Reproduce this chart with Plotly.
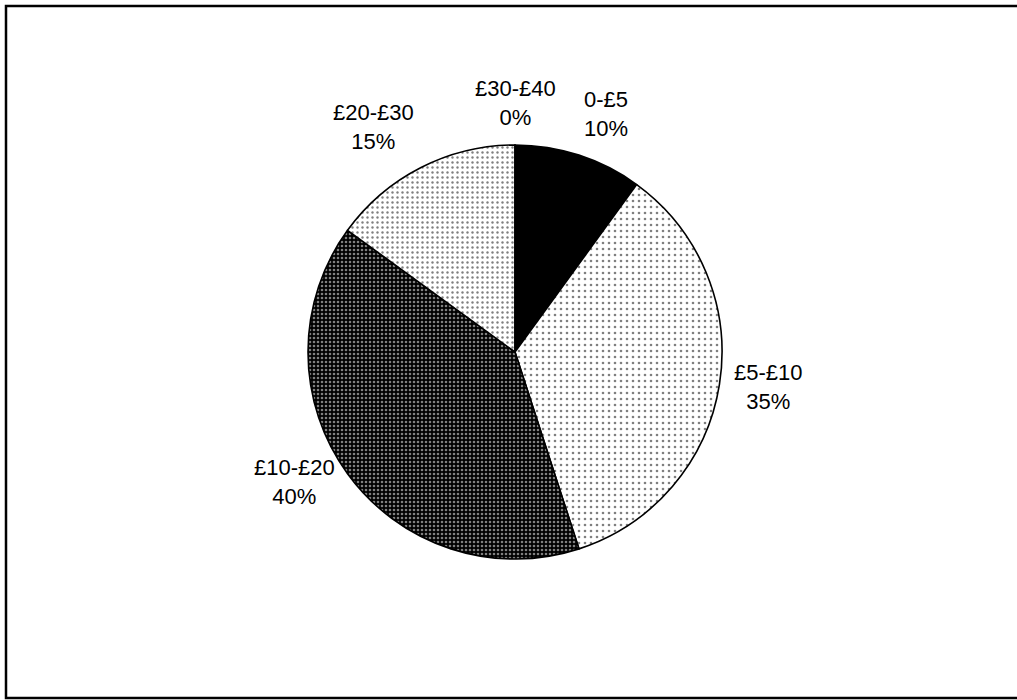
import math
import plotly.graph_objects as go

# Spending bands and their share of respondents (%)
bands = ["0-£5", "£5-£10", "£10-£20", "£20-£30", "£30-£40"]
shares = [10, 35, 40, 15, 0]

# Fill styling per band
fills = ["#000000", "#ffffff", "#000000", "#ffffff", "#ffffff"]
pattern_shapes = ["", ".", ".", ".", ""]
pattern_fg = ["#000000", "#000000", "#ffffff", "#000000", "#000000"]
pattern_size = [6, 6, 4, 5, 6]
pattern_solidity = [0.3, 0.15, 0.33, 0.18, 0.3]

W, H = 1017, 700
cx, cy, R = 515, 352, 207  # pie centre and radius in pixels

fig = go.Figure()
fig.add_trace(go.Pie(
    labels=bands,
    values=shares,
    sort=False,
    direction="clockwise",
    rotation=0,
    textinfo="none",
    hoverinfo="label+percent",
    showlegend=False,
    domain=dict(x=[(cx - R) / W, (cx + R) / W],
                y=[(H - cy - R) / H, (H - cy + R) / H]),
    marker=dict(
        colors=fills,
        line=dict(color="#000000", width=1.6),
        pattern=dict(shape=pattern_shapes, fgcolor=pattern_fg, bgcolor=fills,
                     size=pattern_size, solidity=pattern_solidity,
                     fillmode="overlay"),
    ),
))

# Outside category labels: anchored just beyond the rim at each slice's mid-angle
total = sum(shares)
cum = 0.0
label_r = R + 14
for band, v in zip(bands, shares):
    mid = (cum + v / 2) / total * 2 * math.pi
    cum += v
    s, c = math.sin(mid), math.cos(mid)
    x = cx + label_r * s
    y = cy - label_r * c
    xanchor = "left" if s > 0.2 else ("right" if s < -0.2 else "center")
    yanchor = "bottom" if c > 0.7 else ("top" if c < -0.7 else "middle")
    fig.add_annotation(
        x=x / W, y=1 - y / H, xref="paper", yref="paper",
        text=f"{band}<br>{round(v / total * 100)}%",
        showarrow=False, xanchor=xanchor, yanchor=yanchor, align="center",
        borderpad=0,
        font=dict(family="Liberation Sans, Arial, sans-serif", size=22, color="#000000"),
    )

# Outer frame
fig.add_shape(type="rect", xref="paper", yref="paper",
              x0=6 / W, x1=1.01, y0=1 - 698 / H, y1=1 - 6 / H,
              line=dict(color="#000000", width=2.5), fillcolor="rgba(0,0,0,0)")

fig.update_layout(
    width=W, height=H,
    margin=dict(l=0, r=0, t=0, b=0),
    paper_bgcolor="#ffffff",
    plot_bgcolor="#ffffff",
)

fig.write_html("out.html")
